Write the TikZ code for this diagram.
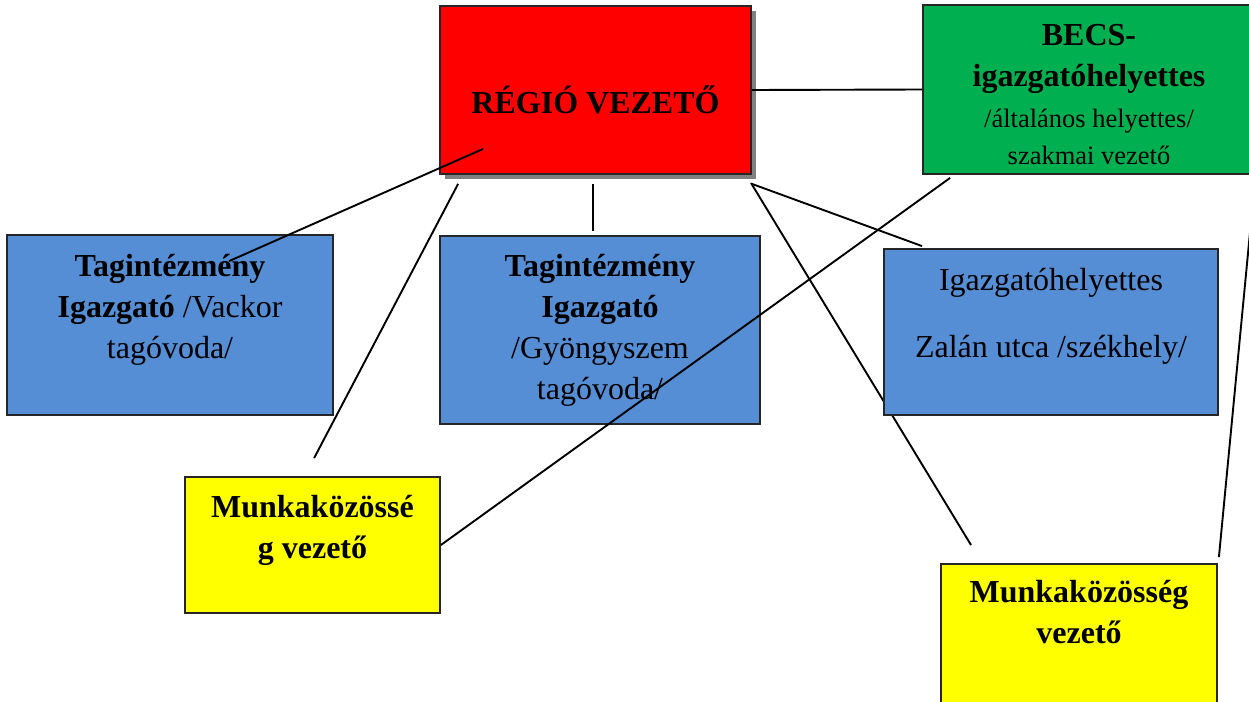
\documentclass[tikz,border=0pt]{standalone}
\usepackage{fontspec}
\setmainfont{Liberation Serif}
\usetikzlibrary{shadows}
\definecolor{regiored}{HTML}{FF0000}
\definecolor{becsgreen}{HTML}{00B050}
\definecolor{tagblue}{HTML}{558ED5}
\definecolor{mkyellow}{HTML}{FFFF00}
\definecolor{shadowgray}{HTML}{808080}
\begin{document}
\begin{tikzpicture}[x=1pt, y=-1pt,
    box/.style={draw=black!85, line width=1.8pt, rectangle, inner sep=0pt},
    txt/.style={anchor=north, align=center, inner sep=0pt, font=\fontsize{32}{41}\selectfont},
    conn/.style={line width=1.9pt}]
    \useasboundingbox (0,0) rectangle (1249,701);
    \clip (0,0) rectangle (1249,701);
    % Line behind the blue box on the right
    \coordinate (regio-se) at (751,183);
    \coordinate (mk2-nw) at (971,545);
    \draw[conn] (regio-se) -- (mk2-nw);
    % Boxes
    \node[box, fill=regiored, minimum width=311pt, minimum height=168pt,
        drop shadow={shadow xshift=5pt, shadow yshift=-5pt, fill=shadowgray, opacity=1}] (regio) at (595.5,90) {};
    \node[box, fill=becsgreen, minimum width=332pt, minimum height=169pt] (becs) at (1089,89.5) {};
    \node[box, fill=tagblue, minimum width=326pt, minimum height=180pt] (vackor) at (170,325) {};
    \node[box, fill=tagblue, minimum width=320pt, minimum height=188pt] (gyongy) at (600,330) {};
    \node[box, fill=tagblue, minimum width=334pt, minimum height=166pt] (zalan) at (1051,332) {};
    \node[box, fill=mkyellow, minimum width=255pt, minimum height=136pt] (mk1) at (312.5,545) {};
    \node[box, fill=mkyellow, minimum width=276pt, minimum height=160pt] (mk2) at (1079,644) {};
    % Texts
    \node[txt] (regio-t) at ([yshift=-79.3pt]regio.north) {\strut\textbf{RÉGIÓ VEZETŐ}};
    \node[txt] (becs-t) at ([yshift=-12.3pt]becs.north) {\strut\textbf{BECS-}\\ \textbf{igazgatóhelyettes}\\
        {\fontsize{26.5}{33}\selectfont /általános helyettes/}\\[-4pt] {\fontsize{26.5}{33}\selectfont szakmai vezető}};
    \node[txt] (vackor-t) at ([yshift=-13.3pt]vackor.north) {\strut\textbf{Tagintézmény}\\ \textbf{Igazgató} /Vackor\\ tagóvoda/};
    \node[txt] (gyongy-t) at ([yshift=-12.3pt]gyongy.north) {\strut\textbf{Tagintézmény}\\ \textbf{Igazgató}\\ /Gyöngyszem\\ tagóvoda/};
    \node[txt] (zalan-t) at ([yshift=-13.3pt]zalan.north) {\strut Igazgatóhelyettes\\[26pt] Zalán utca /székhely/};
    \node[txt] (mk1-t) at ([yshift=-12.3pt]mk1.north) {\strut\textbf{Munkaközössé}\\ \textbf{g vezető}};
    \node[txt] (mk2-t) at ([yshift=-10.3pt]mk2.north) {\strut\textbf{Munkaközösség}\\ \textbf{vezető}};
    % Connections
    \draw[conn] (regio.east) -- (becs.west);
    \draw[conn] ([xshift=44pt, yshift=26pt]regio.south west) -- ([xshift=223pt, yshift=-27pt]vackor.north west);
    \draw[conn] ([xshift=19pt, yshift=-9pt]regio.south west) -- ([xshift=130pt, yshift=18pt]mk1.north west);
    \draw[conn] ([xshift=-2.5pt, yshift=-9pt]regio.south) -- ([xshift=-7pt, yshift=4pt]gyongy.north);
    \draw[conn] ([yshift=-9pt]regio.south east) -- ([xshift=39pt, yshift=2pt]zalan.north west);
    \draw[conn] ([xshift=28pt, yshift=-3pt]becs.south west) -- (mk1.east);
    \draw[conn] ([xshift=-5pt, yshift=-48pt]becs.south east) -- ([xshift=1pt, yshift=6pt]mk2.north east);
\end{tikzpicture}
\end{document}
